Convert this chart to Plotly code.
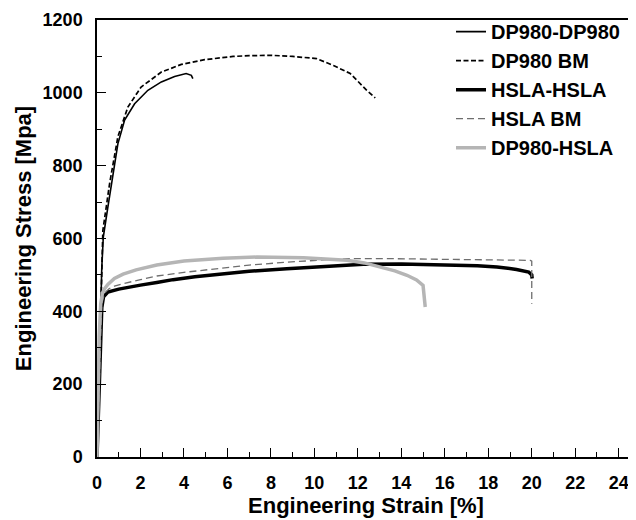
import plotly.graph_objects as go

# DP980-DP980 (thin solid black)
dd_x = [0, 0.05, 0.15, 0.22, 0.29, 0.5, 0.73, 0.96, 1.27, 1.73, 2.34, 2.96, 3.57, 4.1, 4.34, 4.41]
dd_y = [0, 100, 350, 520, 604, 686, 778, 860, 925, 970, 1007, 1030, 1045, 1053, 1048, 1039]

# DP980 BM (black dashed)
db_x = [0, 0.05, 0.15, 0.27, 0.58, 0.96, 1.42, 2.03, 2.96, 3.88, 4.95, 6.26, 7.0, 8.04, 9.0, 10.1, 10.88, 11.65, 12.41, 12.8]
db_y = [0, 110, 380, 622, 751, 879, 961, 1016, 1057, 1078, 1091, 1100, 1102, 1103, 1100, 1094, 1075, 1053, 1007, 986]

# HSLA-HSLA (thick black)
hh_x = [0, 0.08, 0.15, 0.22, 0.3, 0.5, 1.0, 1.5, 2.0, 2.75, 3.5, 4.5, 5.8, 7.0, 8.73, 10.0, 12.25, 14.0, 16.1, 17.5, 18.4, 19.3, 19.86, 20.0, 20.02]
hh_y = [0, 150, 320, 410, 440, 453, 461, 467, 472, 479, 487, 495, 503, 510, 517, 522, 529, 530, 528, 525, 522, 515, 508, 500, 490]

# HSLA BM (grey dashed)
hb_x = [0, 0.08, 0.15, 0.22, 0.35, 0.55, 0.8, 1.2, 2.0, 2.75, 4.0, 5.8, 7.0, 8.73, 10.0, 11.5, 13.0, 15.0, 17.0, 19.0, 19.94, 20.0, 20.0]
hb_y = [0, 150, 330, 420, 450, 462, 469, 476, 487, 497, 507, 519, 527, 535, 540, 545, 545, 544, 543, 541, 540, 538, 421]

# DP980-HSLA (thick light grey)
dh_x = [0, 0.05, 0.1, 0.17, 0.25, 0.35, 0.5, 0.8, 1.2, 1.8, 2.75, 4.0, 5.8, 7.35, 8.43, 9.5, 10.5, 11.5, 12.3, 13.03, 13.7, 14.26, 14.7, 15.0, 15.1]
dh_y = [0, 150, 330, 420, 450, 462, 474, 490, 502, 514, 527, 538, 546, 549, 549, 547, 544, 540, 533, 522, 511, 499, 486, 471, 412]

x_ticks = [0, 2, 4, 6, 8, 10, 12, 14, 16, 18, 20, 22, 24]
y_ticks = [0, 200, 400, 600, 800, 1000, 1200]

FONT = "Liberation Sans, Arial, sans-serif"

fig = go.Figure()
fig.add_trace(go.Scatter(x=dd_x, y=dd_y, mode="lines", name="DP980-DP980",
                         line=dict(color="black", width=1.6), legendgroup="a"))
fig.add_trace(go.Scatter(x=db_x, y=db_y, mode="lines", name="DP980 BM",
                         line=dict(color="black", width=1.7, dash="5px,2.5px"), legendgroup="b"))
fig.add_trace(go.Scatter(x=hh_x, y=hh_y, mode="lines", name="HSLA-HSLA",
                         line=dict(color="black", width=3.5), legendgroup="c"))
fig.add_trace(go.Scatter(x=hb_x, y=hb_y, mode="lines", name="HSLA BM",
                         line=dict(color="#6e6e6e", width=1.3, dash="7px,4px"), legendgroup="d"))
fig.add_trace(go.Scatter(x=dh_x, y=dh_y, mode="lines", name="DP980-HSLA",
                         line=dict(color="#b5b5b5", width=3.5), legendgroup="e"))

# The page body adds an 8px margin, so the figure is sized/offset to compensate.
fig.update_layout(
    width=628, height=512,
    margin=dict(l=89, r=1, t=12, b=63, autoexpand=False),
    paper_bgcolor="white", plot_bgcolor="white",
    font=dict(family=FONT, color="black", size=18, weight="bold"),
    showlegend=True,
    legend=dict(x=0.658, y=1.018, xanchor="left", yanchor="top",
                font=dict(size=20, family=FONT, weight="bold", color="black"),
                bgcolor="rgba(0,0,0,0)", tracegroupgap=0),
    xaxis=dict(range=[0, 24.75], tickvals=x_ticks, ticks="inside", ticklen=9,
               tickwidth=1.3, tickcolor="black", showline=True, linecolor="black",
               linewidth=1.5, mirror=True, showgrid=False, zeroline=False,
               ticklabelstandoff=9, automargin=False,
               minor=dict(dtick=1, ticks="inside", ticklen=5, tickwidth=1.2, tickcolor="black"),
               title=dict(text="Engineering Strain [%]", font=dict(size=22, weight="bold"), standoff=3),
               tickfont=dict(size=18, weight="bold")),
    yaxis=dict(range=[0, 1200], tickvals=y_ticks, ticks="inside", ticklen=9,
               tickwidth=1.3, tickcolor="black", showline=True, linecolor="black",
               linewidth=1.5, showgrid=False, zeroline=False, ticklabelstandoff=9,
               automargin=False,
               minor=dict(dtick=100, ticks="inside", ticklen=5, tickwidth=1.2, tickcolor="black"),
               title=dict(text="Engineering Stress [Mpa]", font=dict(size=22, weight="bold"), standoff=5),
               tickfont=dict(size=18, weight="bold")),
)

fig.write_html("out.html")
